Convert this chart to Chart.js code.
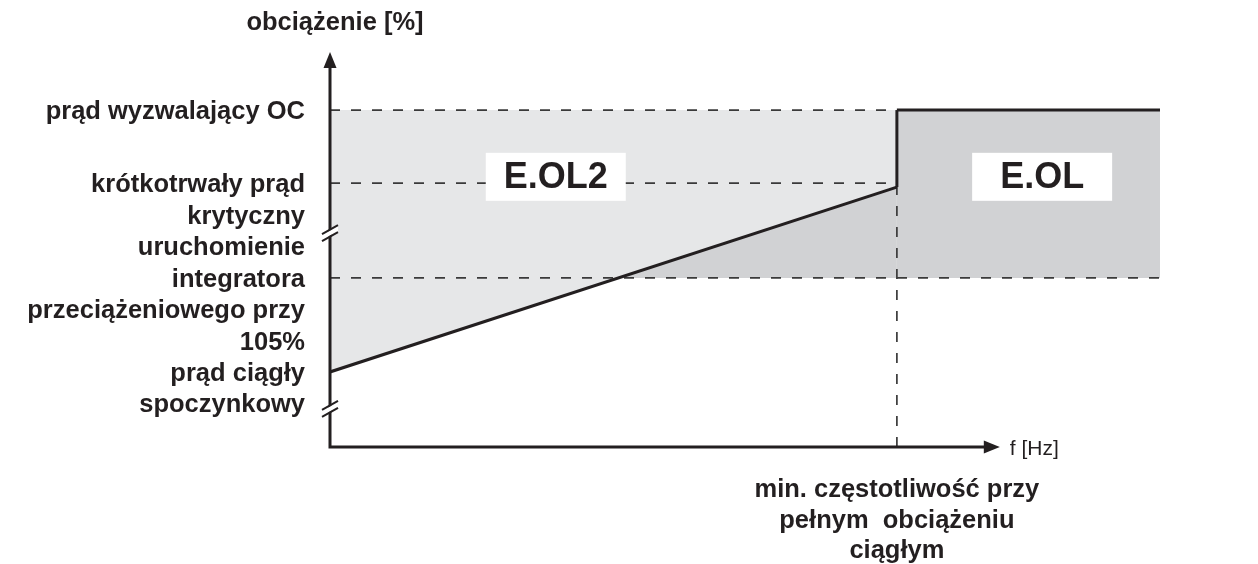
<!DOCTYPE html>
<html>
<head>
<meta charset="utf-8">
<script src="https://cdn.jsdelivr.net/npm/chart.js@4.4.1/dist/chart.umd.min.js"></script>
<style>
  html, body { margin: 0; padding: 0; background: #fff; }
  #wrap { width: 1258px; height: 564px; position: relative; }
</style>
</head>
<body>
<div id="wrap"><canvas id="chart"></canvas></div>
<script>
// levels on the load axis (abstract units, axis runs 0..100)
const levelOC = 85.3;          // prąd wyzwalający OC
const levelShortCrit = 66.8;   // krótkotrwały prąd krytyczny
const levelIntegrator = 42.8;  // uruchomienie integratora przeciążeniowego przy 105%
const levelContinuous = 19;    // prąd ciągły spoczynkowy
const slopeEndLevel = 65.8;

// frequency axis (abstract units, 0..100)
const fMin = 68.3;     // min. częstotliwość przy pełnym obciążeniu ciągłym
const fEnd = 100;
const fArrow = 80.7;
const yArrow = 100;

const axisBreaks = [54.4, 9.9];

const leftLabels = [
  { lines: ['prąd wyzwalający OC'], anchor: 0, level: levelOC },
  { lines: ['krótkotrwały prąd', 'krytyczny'], anchor: 0, level: levelShortCrit },
  { lines: ['uruchomienie', 'integratora', 'przeciążeniowego przy', '105%'], anchor: 1, level: levelIntegrator },
  { lines: ['prąd ciągły', 'spoczynkowy'], anchor: 0, level: levelContinuous }
];
const regionLabels = ['E.OL2', 'E.OL'];
const regionCenters = [[27.2, 68.4], [85.8, 68.4]];
const yTitle = 'obciążenie [%]';
const xTitle = 'f [Hz]';
const fMinLabel = ['min. częstotliwość przy', 'pełnym  obciążeniu', 'ciągłym'];

const INK = '#231f20';
const LIGHT = '#e6e7e8';
const DARK = '#d1d2d4';
const DASH = '#3a3a3a';
const BOLD = "bold 25.5px 'Liberation Sans', Arial, Helvetica, sans-serif";

function seg(a, b, style) {
  return Object.assign({
    data: [{ x: a[0], y: a[1] }, { x: b[0], y: b[1] }],
    showLine: true, pointRadius: 0, fill: false,
    borderColor: INK, borderWidth: 3
  }, style || {});
}
const dashed = { borderColor: DASH, borderWidth: 1.7, borderDash: [10, 11] };

const datasets = [
  // light area between OC level and the sloped line
  seg([0, levelOC], [fMin, levelOC], Object.assign({ fill: '+1', backgroundColor: LIGHT }, dashed)),
  // sloped line, dark below it down to integrator level
  seg([0, levelContinuous], [fMin, slopeEndLevel], {
    fill: { target: { value: levelIntegrator }, above: DARK, below: 'rgba(0,0,0,0)' }
  }),
  // right block
  seg([fMin, levelOC], [fEnd, levelOC], { fill: { target: { value: levelIntegrator } }, backgroundColor: DARK }),
  seg([fMin, slopeEndLevel], [fMin, levelOC]),
  seg([0, levelShortCrit], [fMin, levelShortCrit], dashed),
  seg([0, levelIntegrator], [fEnd, levelIntegrator], dashed),
  seg([fMin, 0], [fMin, slopeEndLevel], dashed)
];

const decorPlugin = {
  id: 'decor',
  afterDatasetsDraw(chart) {
    const ctx = chart.ctx;
    const xs = chart.scales.x, ys = chart.scales.y;
    const x0 = xs.getPixelForValue(0), y0 = ys.getPixelForValue(0);
    ctx.save();
    ctx.strokeStyle = INK;
    ctx.fillStyle = INK;
    ctx.lineWidth = 3;

    // axes with arrows
    const xTip = xs.getPixelForValue(fArrow), yTip = ys.getPixelForValue(yArrow);
    ctx.beginPath();
    ctx.moveTo(x0, yTip + 10); ctx.lineTo(x0, y0); ctx.lineTo(xTip - 10, y0);
    ctx.stroke();
    ctx.beginPath();
    ctx.moveTo(x0, yTip); ctx.lineTo(x0 - 6.5, yTip + 16); ctx.lineTo(x0 + 6.5, yTip + 16);
    ctx.closePath(); ctx.fill();
    ctx.beginPath();
    ctx.moveTo(xTip, y0); ctx.lineTo(xTip - 16, y0 - 6.5); ctx.lineTo(xTip - 16, y0 + 6.5);
    ctx.closePath(); ctx.fill();

    // axis breaks
    axisBreaks.forEach(v => {
      const y = ys.getPixelForValue(v);
      ctx.fillStyle = '#fff';
      ctx.beginPath();
      ctx.moveTo(x0 - 8, y + 3); ctx.lineTo(x0 + 8, y - 6);
      ctx.lineTo(x0 + 8, y - 1); ctx.lineTo(x0 - 8, y + 8);
      ctx.closePath(); ctx.fill();
      ctx.lineWidth = 2;
      ctx.beginPath();
      ctx.moveTo(x0 - 8, y + 2); ctx.lineTo(x0 + 8, y - 7);
      ctx.moveTo(x0 - 8, y + 9); ctx.lineTo(x0 + 8, y);
      ctx.stroke();
    });

    // region boxes
    ctx.font = "bold 36px 'Liberation Sans', Arial, Helvetica, sans-serif";
    ctx.textAlign = 'center';
    ctx.textBaseline = 'middle';
    regionLabels.forEach((t, i) => {
      const cx = xs.getPixelForValue(regionCenters[i][0]);
      const cy = ys.getPixelForValue(regionCenters[i][1]);
      ctx.fillStyle = '#fff';
      ctx.fillRect(cx - 70, cy - 24, 140, 48);
      ctx.fillStyle = INK;
      ctx.fillText(t, cx, cy + 1);
    });

    // left labels
    ctx.font = BOLD;
    ctx.textAlign = 'right';
    ctx.textBaseline = 'alphabetic';
    const lh = 31.5;
    leftLabels.forEach(g => {
      const base = ys.getPixelForValue(g.level) + 9;
      g.lines.forEach((t, i) => ctx.fillText(t, 305, base + (i - g.anchor) * lh));
    });

    // axis titles
    ctx.textAlign = 'center';
    ctx.fillText(yTitle, x0 + 5, 30);
    const fx = xs.getPixelForValue(fMin);
    fMinLabel.forEach((t, i) => ctx.fillText(t, fx, 497 + i * 30.5));
    ctx.font = "21px 'Liberation Sans', Arial, Helvetica, sans-serif";
    ctx.textAlign = 'left';
    ctx.fillText(xTitle, xTip + 10, y0 + 8);
    ctx.restore();
  }
};

new Chart(document.getElementById('chart'), {
  type: 'scatter',
  data: { datasets: datasets },
  options: {
    responsive: true,
    maintainAspectRatio: false,
    animation: false,
    layout: { padding: { left: 330, right: 98, top: 52, bottom: 117 } },
    scales: {
      x: { type: 'linear', min: 0, max: 100, display: false },
      y: { type: 'linear', min: 0, max: 100, display: false }
    },
    plugins: {
      legend: { display: false },
      tooltip: { enabled: false },
      filler: { drawTime: 'beforeDatasetsDraw' }
    },
    elements: { line: { tension: 0 } }
  },
  plugins: [decorPlugin]
});
</script>
</body>
</html>
